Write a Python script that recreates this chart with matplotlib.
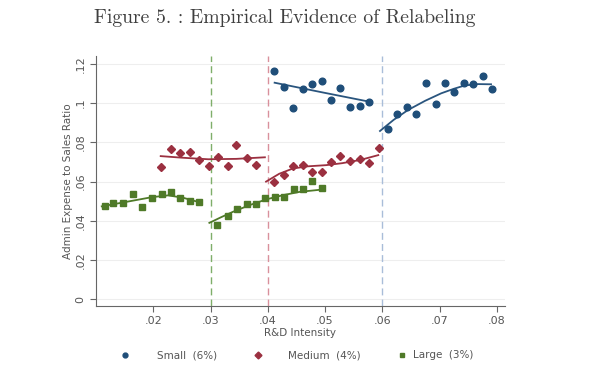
import matplotlib
matplotlib.use("Agg")
import matplotlib.pyplot as plt
from matplotlib.lines import Line2D

# ---- data ----
small_x1 = [0.0411, 0.0428, 0.0444, 0.0462, 0.0478, 0.0495, 0.0511, 0.0527, 0.0544, 0.0561, 0.0577]
small_y1 = [0.1165, 0.1080, 0.0973, 0.1070, 0.1096, 0.1113, 0.1016, 0.1078, 0.0981, 0.0987, 0.1007]
small_x2 = [0.0610, 0.0626, 0.0644, 0.0659, 0.0677, 0.0693, 0.0710, 0.0726, 0.0743, 0.0759, 0.0776, 0.0792]
small_y2 = [0.0866, 0.0943, 0.0978, 0.0943, 0.1104, 0.0995, 0.1101, 0.1058, 0.1101, 0.1096, 0.1138, 0.1072]
small_fx1 = [0.0412, 0.0495, 0.0578]
small_fy1 = [0.1104, 0.1055, 0.1007]
small_fx2 = [0.0596, 0.0620, 0.0645, 0.0675, 0.0703, 0.0725, 0.0744, 0.0767, 0.0790]
small_fy2 = [0.0858, 0.0915, 0.0965, 0.1012, 0.1050, 0.1073, 0.1090, 0.1097, 0.1096]

med_x1 = [0.0213, 0.0231, 0.0247, 0.0264, 0.0280, 0.0297, 0.0313, 0.0330, 0.0345, 0.0363, 0.0379]
med_y1 = [0.0673, 0.0764, 0.0744, 0.0749, 0.0710, 0.0681, 0.0724, 0.0679, 0.0786, 0.0718, 0.0684]
med_x2 = [0.0411, 0.0428, 0.0444, 0.0462, 0.0478, 0.0495, 0.0511, 0.0527, 0.0544, 0.0561, 0.0577, 0.0594]
med_y2 = [0.0598, 0.0633, 0.0681, 0.0684, 0.0647, 0.0647, 0.0701, 0.0730, 0.0705, 0.0713, 0.0696, 0.0772]
med_fx1 = [0.0213, 0.0250, 0.0296, 0.0345, 0.0395]
med_fy1 = [0.0730, 0.0722, 0.0714, 0.0716, 0.0724]
med_fx2 = [0.0397, 0.0420, 0.0444, 0.0470, 0.0502, 0.0530, 0.0561, 0.0593]
med_fy2 = [0.0600, 0.0640, 0.0667, 0.0678, 0.0684, 0.0694, 0.0710, 0.0735]

large_x1 = [0.0115, 0.0130, 0.0147, 0.0164, 0.0181, 0.0197, 0.0215, 0.0231, 0.0247, 0.0264, 0.0280]
large_y1 = [0.0475, 0.0492, 0.0492, 0.0535, 0.0472, 0.0515, 0.0537, 0.0545, 0.0515, 0.0502, 0.0494]
large_x2 = [0.0312, 0.0330, 0.0347, 0.0363, 0.0379, 0.0395, 0.0412, 0.0429, 0.0445, 0.0462, 0.0478, 0.0495]
large_y2 = [0.0379, 0.0426, 0.0459, 0.0486, 0.0484, 0.0515, 0.0520, 0.0523, 0.0560, 0.0562, 0.0604, 0.0566]
large_fx1 = [0.0110, 0.0140, 0.0168, 0.0198, 0.0226, 0.0252, 0.0278]
large_fy1 = [0.0474, 0.0490, 0.0505, 0.0521, 0.0530, 0.0518, 0.0497]
large_fx2 = [0.0298, 0.0318, 0.0339, 0.0368, 0.0398, 0.0428, 0.0456, 0.0496]
large_fy2 = [0.0390, 0.0418, 0.0446, 0.0480, 0.0510, 0.0532, 0.0548, 0.0560]

cutoffs = [0.03, 0.04, 0.06]
xticks = [0.02, 0.03, 0.04, 0.05, 0.06, 0.07, 0.08]
xticklabels = [".02", ".03", ".04", ".05", ".06", ".07", ".08"]
yticks = [0, 0.02, 0.04, 0.06, 0.08, 0.10, 0.12]
yticklabels = ["0", ".02", ".04", ".06", ".08", ".1", ".12"]
legend_labels = ["Small  (6%)", "Medium  (4%)", "Large  (3%)"]

navy = "#1f4e79"
maroon = "#9b3040"
green = "#4f7a28"
cut_colors = ["#7fae6a", "#d9909c", "#a9bdd9"]
txt = "#555555"

fig = plt.figure(figsize=(5.89, 3.76), dpi=100)
ax = fig.add_axes([0.163, 0.186, 0.694, 0.665])

for c, col in zip(cutoffs, cut_colors):
    ax.axvline(c, color=col, lw=1.0, ls=(0, (5, 3)), zorder=1)

for y in yticks:
    ax.axhline(y, color="#eeeeee", lw=0.8, zorder=0)

ms = 4.8
ax.plot(small_x1, small_y1, "o", color=navy, ms=ms, zorder=3)
ax.plot(small_x2, small_y2, "o", color=navy, ms=ms, zorder=3)
ax.plot(small_fx1, small_fy1, "-", color="#2a557e", lw=1.3, zorder=2)
ax.plot(small_fx2, small_fy2, "-", color="#2a557e", lw=1.3, zorder=2)

ax.plot(med_x1, med_y1, "D", color=maroon, ms=4.4, zorder=3)
ax.plot(med_x2, med_y2, "D", color=maroon, ms=4.4, zorder=3)
ax.plot(med_fx1, med_fy1, "-", color=maroon, lw=1.3, zorder=2)
ax.plot(med_fx2, med_fy2, "-", color=maroon, lw=1.3, zorder=2)

ax.plot(large_x1, large_y1, "s", color=green, ms=4.7, zorder=3)
ax.plot(large_x2, large_y2, "s", color=green, ms=4.7, zorder=3)
ax.plot(large_fx1, large_fy1, "-", color=green, lw=1.3, zorder=2)
ax.plot(large_fx2, large_fy2, "-", color=green, lw=1.3, zorder=2)

ax.set_xlim(0.0100, 0.0814)
ax.set_ylim(-0.0034, 0.124)
ax.set_xticks(xticks)
ax.set_xticklabels(xticklabels)
ax.set_yticks(yticks)
ax.set_yticklabels(yticklabels, rotation=90, va="center")
ax.tick_params(axis="both", colors="#666666", labelcolor=txt, labelsize=8, length=4, width=0.8)
for s in ["top", "right"]:
    ax.spines[s].set_visible(False)
for s in ["left", "bottom"]:
    ax.spines[s].set_color("#666666")
    ax.spines[s].set_linewidth(0.8)
ax.set_xlabel("R&D Intensity", fontsize=7.5, color=txt, labelpad=1)
ax.set_ylabel("Admin Expense to Sales Ratio", fontsize=7.5, color=txt, labelpad=2)

fig.text(0.484, 0.953, "Figure 5. : Empirical Evidence of Relabeling",
         family=["cmr10", "DejaVu Serif"], fontsize=14.2, color="#3f3f3f", ha="center", va="center")

ly = 1 - 355 / 376
mk = [("o", navy, 125), ("D", maroon, 258), ("s", green, 402)]
tx = [157, 288, 413]
for (m, c, px), lab, tpx in zip(mk, legend_labels, tx):
    fig.add_artist(Line2D([px / 589], [ly], marker=m, color=c, ms=3.5, ls="none",
                          transform=fig.transFigure))
    fig.text(tpx / 589, ly, lab, fontsize=7.5, color=txt, va="center", ha="left")

fig.savefig("out.png", dpi=100, facecolor="white")
